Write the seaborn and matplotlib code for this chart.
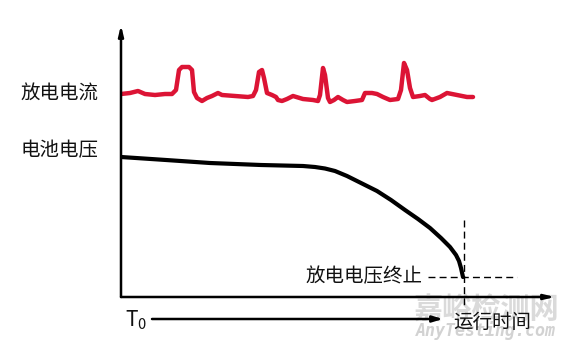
import matplotlib
matplotlib.use("Agg")
import matplotlib.pyplot as plt
import seaborn as sns
import pandas as pd

sns.set_theme(style="white")
plt.rcParams['font.family'] = ['Noto Sans CJK SC', 'DejaVu Sans']

# Discharge current trace (time, level)
cur_t = [0, 9, 17, 24, 34, 44, 51, 55, 58, 61, 68, 71, 73, 76, 81, 86, 91, 97, 101, 114,
         127, 132, 135, 138, 141, 143, 146, 151, 155, 157, 161, 166, 172, 182, 192, 197,
         199, 202, 204, 207, 209, 213, 217, 222, 226, 234, 241, 244, 251, 256, 262, 269,
         277, 280, 283, 286, 289, 292, 299, 304, 309, 311, 319, 326, 331, 336, 341, 346, 352]
cur_v = [203, 204, 206, 203, 202, 203, 203, 207, 227, 230, 230, 227, 205, 199, 196, 199, 201, 204, 202, 201,
         200, 201, 207, 225, 227, 219, 204, 202, 200, 197, 196, 198, 201, 198, 197, 196,
         202, 229, 222, 199, 195, 197, 200, 197, 195, 196, 197, 204, 204, 203, 200, 197,
         198, 207, 234, 227, 209, 200, 201, 202, 198, 197, 200, 204, 203, 202, 201, 200, 200]

# Battery voltage trace
volt_t = [0, 45, 89, 140, 182, 194, 204, 214, 226, 240, 256, 270, 284, 297, 309, 320, 329, 335, 338, 340, 342]
volt_v = [140, 137, 134, 132, 131, 130, 128.5, 126, 121, 114, 106, 97, 87, 78, 69, 59, 50, 42, 36, 29, 20]

cutoff_t = 343
cutoff_v = 20
x_max = 434
y_max = 272

ytick_pos = [206, 149]
ytick_labels = ["放电电流", "电池电压"]

cur_df = pd.DataFrame({"t": cur_t, "v": cur_v})
volt_df = pd.DataFrame({"t": volt_t, "v": volt_v})

fig = plt.figure(figsize=(5.67, 3.56), dpi=100)
ax = fig.add_axes([121 / 567, 59 / 356, 434 / 567, 272 / 356])

sns.lineplot(data=cur_df, x="t", y="v", sort=False, estimator=None, ax=ax,
             color="#dc1435", linewidth=3.2, solid_capstyle="round", solid_joinstyle="round")
sns.lineplot(data=volt_df, x="t", y="v", sort=False, estimator=None, ax=ax,
             color="black", linewidth=3.0, solid_capstyle="round", solid_joinstyle="round")

ax.set_xlim(0, x_max)
ax.set_ylim(0, y_max)
for s in ax.spines.values():
    s.set_visible(False)
ax.set_xlabel("")
ax.set_ylabel("")
ax.set_xticks([])
ax.set_yticks(ytick_pos, ytick_labels)
ax.tick_params(axis="y", length=0, pad=16.5, labelsize=14, labelcolor="#111111")

# axes arrows
ax.annotate("", xy=(0, y_max), xytext=(0, 0), xycoords="data",
            arrowprops=dict(arrowstyle="-|>,head_length=0.5,head_width=0.12", color="black", lw=1.8,
                            shrinkA=0, shrinkB=0), annotation_clip=False)
ax.annotate("", xy=(x_max, 0), xytext=(0, 0), xycoords="data",
            arrowprops=dict(arrowstyle="-|>,head_length=0.5,head_width=0.12", color="black", lw=1.8,
                            shrinkA=0, shrinkB=0), annotation_clip=False)

# cutoff dashed lines
ax.plot([cutoff_t, cutoff_t], [77, -10], ls=(0, (5, 3)), color="black", lw=1.0, clip_on=False)
ax.plot([307, 396], [cutoff_v, cutoff_v], ls=(0, (5, 3)), color="black", lw=1.0, clip_on=False)
ax.text(301, cutoff_v, "放电电压终止", ha="right", va="center", fontsize=14, color="#111111")

# time arrow
ax.text(4, -23, r"$\mathregular{T_0}$", ha="left", va="center", fontsize=15, color="#111111")
ax.annotate("", xy=(322, -22), xytext=(31, -22), xycoords="data",
            arrowprops=dict(arrowstyle="-|>,head_length=0.5,head_width=0.15", color="black", lw=1.8,
                            shrinkA=0, shrinkB=0), annotation_clip=False)

# watermark
ax.text(365, -13, "嘉峪检测网", ha="center", va="center", fontsize=21, color="#dadada",
        fontweight="bold", zorder=0)
ax.text(365, -34, "AnyTesting.com", ha="center", va="center", fontsize=12, color="#d2d2d2",
        family="DejaVu Sans Mono", fontstyle="oblique", fontweight="bold", zorder=0)

ax.text(332, -25, "运行时间", ha="left", va="center", fontsize=14, color="#111111", zorder=5)

fig.savefig("out.png", dpi=100, facecolor="white")
